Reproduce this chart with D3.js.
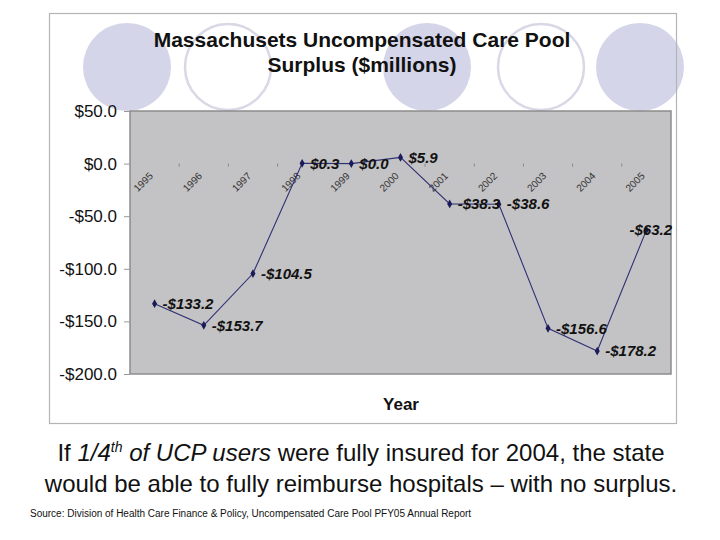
<!DOCTYPE html>
<html>
<head>
<meta charset="utf-8">
<script src="https://cdn.jsdelivr.net/npm/d3@7"></script>
<style>
    body { margin: 0; background: #fff; }
    svg { display: block; font-family: Arial, "Liberation Sans", sans-serif; }
</style>
</head>
<body>
<div id="chart"></div>
<script>
// data
const years = ['1995', '1996', '1997', '1998', '1999', '2000', '2001', '2002', '2003', '2004', '2005'];
const surplus = [-133.2, -153.7, -104.5, 0.3, 0.0, 5.9, -38.3, -38.6, -156.6, -178.2, -63.2];
const yTicks = [50, 0, -50, -100, -150, -200];
const titleLines = ['Massachusets Uncompensated Care Pool', 'Surplus ($millions)'];

let width = 720,
    height = 540,
    plot = { left: 130, right: 671, top: 111, bottom: 374 },
    navy = '#2f3175';

let svg = d3.select('#chart')
    .append('svg')
    .attr('width', width)
    .attr('height', height);

// decorative circles of the slide template
let circles = [
    { cx: 127, filled: true },
    { cx: 228, filled: false },
    { cx: 427, filled: true },
    { cx: 541, filled: false },
    { cx: 640, filled: true }
];
svg.append('g')
    .selectAll('circle')
    .data(circles)
    .enter()
    .append('circle')
    .attr('cx', d => d.cx)
    .attr('cy', 67)
    .attr('r', d => d.filled ? 44 : 43)
    .attr('fill', d => d.filled ? '#d5d5ea' : '#fff')
    .attr('stroke', d => d.filled ? 'none' : '#d8d8e6')
    .attr('stroke-width', 2.5);

// chart frame
svg.append('rect')
    .attr('x', 49.5)
    .attr('y', 13.5)
    .attr('width', 627)
    .attr('height', 410)
    .attr('fill', 'none')
    .attr('stroke', '#b4b4b4')
    .attr('stroke-width', 1.2);

// title
svg.append('g')
    .selectAll('text')
    .data(titleLines)
    .enter()
    .append('text')
    .attr('x', 362)
    .attr('y', (d, i) => 47 + i * 25)
    .attr('text-anchor', 'middle')
    .attr('font-size', 21)
    .attr('font-weight', 'bold')
    .attr('fill', '#111')
    .text(d => d);

// scales
let scaleX = d3.scaleBand()
    .domain(years)
    .range([plot.left, plot.right]);

let scaleY = d3.scaleLinear()
    .domain([-200, 50])
    .range([plot.bottom, plot.top]);

let cx = d => scaleX(d) + scaleX.bandwidth() / 2;

// plot area
svg.append('rect')
    .attr('x', plot.left)
    .attr('y', plot.top)
    .attr('width', plot.right - plot.left)
    .attr('height', plot.bottom - plot.top)
    .attr('fill', '#c3c2c4')
    .attr('stroke', '#8c8c8c')
    .attr('stroke-width', 1.5);

// y axis
let yAxis = d3.axisLeft(scaleY)
    .tickValues(yTicks)
    .tickSize(6)
    .tickPadding(7)
    .tickFormat(d => (d < 0 ? '-$' : '$') + Math.abs(d).toFixed(1));

svg.append('g')
    .attr('transform', 'translate(' + plot.left + ',0)')
    .call(yAxis)
    .call(g => {
        g.select('.domain').remove();
        g.selectAll('.tick line').attr('stroke', '#999');
        g.selectAll('.tick text')
            .attr('font-size', 17)
            .attr('font-family', 'Arial, "Liberation Sans", sans-serif')
            .attr('fill', '#111');
    });

// category axis crossing at zero
let y0 = scaleY(0);
let xAxis = svg.append('g').attr('class', 'x-axis');

xAxis.selectAll('line')
    .data(years.slice(1))
    .enter()
    .append('line')
    .attr('x1', d => scaleX(d))
    .attr('x2', d => scaleX(d))
    .attr('y1', y0)
    .attr('y2', y0 + 3)
    .attr('stroke', '#888');

xAxis.selectAll('text')
    .data(years)
    .enter()
    .append('text')
    .attr('transform', d => 'translate(' + (cx(d) - 1) + ',' + (y0 + 13) + ') rotate(-45)')
    .attr('text-anchor', 'end')
    .attr('font-size', 10)
    .attr('fill', '#333')
    .text(d => d);

// line and markers
let points = years.map((y, i) => ({ year: y, value: surplus[i] }));

let line = d3.line()
    .x(d => cx(d.year))
    .y(d => scaleY(d.value));

svg.append('path')
    .datum(points)
    .attr('d', line)
    .attr('fill', 'none')
    .attr('stroke', navy)
    .attr('stroke-width', 1.1);

svg.append('g')
    .selectAll('path')
    .data(points)
    .enter()
    .append('path')
    .attr('transform', d => 'translate(' + cx(d.year) + ',' + scaleY(d.value) + ')')
    .attr('d', d3.symbol().type(d3.symbolDiamond).size(22))
    .attr('fill', '#1b1b5a');

// data labels, pushed back inside when they would run past the plot edge
let labels = svg.append('g')
    .selectAll('text')
    .data(points)
    .enter()
    .append('text')
    .attr('y', d => scaleY(d.value))
    .attr('dy', '0.35em')
    .attr('font-size', 15)
    .attr('font-weight', 'bold')
    .attr('font-style', 'italic')
    .attr('fill', '#111')
    .text(d => (d.value < 0 ? '-$' : '$') + Math.abs(d.value).toFixed(1));

labels.attr('x', function(d) {
    let w = this.getComputedTextLength(),
        x = cx(d.year) + 8;
    return x + w > plot.right ? plot.right + 1 - w : x;
});

// axis title
svg.append('text')
    .attr('x', 401)
    .attr('y', 410)
    .attr('text-anchor', 'middle')
    .attr('font-size', 17)
    .attr('font-weight', 'bold')
    .attr('fill', '#111')
    .text('Year');

// caption below the chart
let caption1 = svg.append('text')
    .attr('x', 361)
    .attr('y', 461)
    .attr('text-anchor', 'middle')
    .attr('font-size', 24)
    .attr('fill', '#111');
caption1.append('tspan').text('If ');
caption1.append('tspan').attr('font-style', 'italic').text('1/4');
caption1.append('tspan').attr('font-style', 'italic').attr('font-size', 14).attr('dy', -9).text('th');
caption1.append('tspan').attr('font-style', 'italic').attr('dy', 9).text(' of UCP users');
caption1.append('tspan').text(' were fully insured for 2004, the state');

svg.append('text')
    .attr('x', 361)
    .attr('y', 492)
    .attr('text-anchor', 'middle')
    .attr('font-size', 24)
    .attr('fill', '#111')
    .text('would be able to fully reimburse hospitals \u2013 with no surplus.');

svg.append('text')
    .attr('x', 30)
    .attr('y', 517)
    .attr('font-size', 10)
    .attr('fill', '#111')
    .text('Source: Division of Health Care Finance & Policy, Uncompensated Care Pool PFY05 Annual Report');
</script>
</body>
</html>
